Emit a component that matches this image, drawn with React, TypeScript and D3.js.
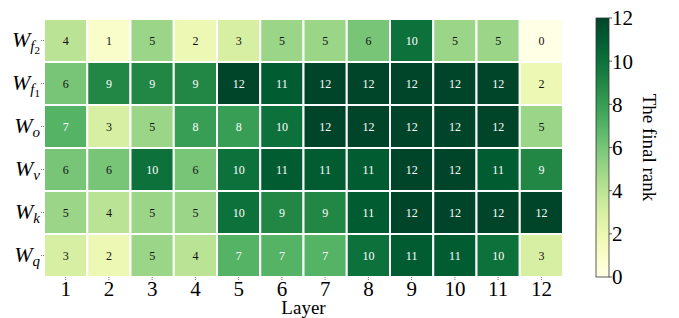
import * as d3 from "d3";

// matrix names (top row is W_f2, bottom row is W_q)
const rowNames = ["f2", "f1", "o", "v", "k", "q"];
const layers = ["1", "2", "3", "4", "5", "6", "7", "8", "9", "10", "11", "12"];

const rankWf2 = [4, 1, 5, 2, 3, 5, 5, 6, 10, 5, 5, 0];
const rankWf1 = [6, 9, 9, 9, 12, 11, 12, 12, 12, 12, 12, 2];
const rankWo = [7, 3, 5, 8, 8, 10, 12, 12, 12, 12, 12, 5];
const rankWv = [6, 6, 10, 6, 10, 11, 11, 11, 12, 12, 11, 9];
const rankWk = [5, 4, 5, 5, 10, 9, 9, 11, 12, 12, 12, 12];
const rankWq = [3, 2, 5, 4, 7, 7, 7, 10, 11, 11, 10, 3];

const cbTicks = [0, 2, 4, 6, 8, 10, 12];

const W = 679;
const H = 318;
const plot = { left: 44, top: 19, right: 563, bottom: 277 };
const cb = { left: 596, right: 609, top: 18, bottom: 277 };
const font = "Liberation Serif, Times New Roman, Times, serif";

export default function App() {
  const rows = [rankWf2, rankWf1, rankWo, rankWv, rankWk, rankWq];
  const x = d3.scaleBand().domain(layers).range([plot.left, plot.right]);
  const y = d3.scaleBand().domain(rowNames).range([plot.top, plot.bottom]);
  const color = d3.scaleSequential(d3.interpolateYlGn).domain([0, 12]);
  const cbScale = d3.scaleLinear().domain([0, 12]).range([cb.bottom, cb.top]);
  const stops = d3.range(0, 1.0001, 0.05);

  return (
    <svg width={W} height={H} style={{ position: "absolute", left: 0, top: 0, fontFamily: font }}>
      <defs>
        <linearGradient id="cbGrad" x1="0" y1="1" x2="0" y2="0">
          {stops.map((t) => (
            <stop key={t} offset={t} stopColor={d3.interpolateYlGn(t)} />
          ))}
        </linearGradient>
      </defs>
      <rect width={W} height={H} fill="white" />

      {/* cells */}
      {rows.map((vals, ri) =>
        vals.map((v, ci) => {
          const cx = x(layers[ci])!;
          const cy = y(rowNames[ri])!;
          return (
            <g key={`${ri}-${ci}`}>
              <rect
                x={cx}
                y={cy}
                width={x.bandwidth()}
                height={y.bandwidth()}
                fill={color(v)}
                stroke="white"
                strokeWidth={2}
              />
              <text
                x={cx + x.bandwidth() / 2}
                y={cy + y.bandwidth() / 2}
                dy="0.35em"
                textAnchor="middle"
                fontSize={12}
                fill={v >= 7 ? "white" : "#111"}
              >
                {v}
              </text>
            </g>
          );
        })
      )}

      {/* y labels */}
      {rowNames.map((n) => {
        const cy = y(n)! + y.bandwidth() / 2;
        const sub = n.length > 1;
        return (
          <g key={n}>
            <line x1={plot.left - 3} x2={plot.left} y1={cy} y2={cy} stroke="#555" strokeWidth={0.8} strokeDasharray="1,1" />
            <text x={plot.left - 4} y={cy} dy="0.3em" textAnchor="end" fontSize={22} fontStyle="italic">
              W
              <tspan fontSize={15} dy={4}>{n[0]}</tspan>
              {sub && (
                <tspan fontSize={11} fontStyle="normal" dy={3}>{n[1]}</tspan>
              )}
            </text>
          </g>
        );
      })}

      {/* x labels */}
      {layers.map((l) => {
        const cx = x(l)! + x.bandwidth() / 2;
        return (
          <g key={l}>
            <line x1={cx} x2={cx} y1={plot.bottom} y2={plot.bottom + 3} stroke="#555" strokeWidth={0.8} strokeDasharray="1,1" />
            <text x={cx} y={plot.bottom + 19} textAnchor="middle" fontSize={21}>
              {l}
            </text>
          </g>
        );
      })}
      <text x={(plot.left + plot.right) / 2} y={H - 4} textAnchor="middle" fontSize={19}>
        Layer
      </text>

      {/* colorbar */}
      <rect x={cb.left} y={cb.top} width={cb.right - cb.left} height={cb.bottom - cb.top} fill="url(#cbGrad)" stroke="#333" strokeWidth={0.8} />
      {cbTicks.map((t) => (
        <g key={t}>
          <line x1={cb.right} x2={cb.right + 3} y1={cbScale(t)} y2={cbScale(t)} stroke="#333" strokeWidth={0.8} />
          <text x={cb.right + 3} y={cbScale(t)} dy="0.35em" fontSize={21}>
            {t}
          </text>
        </g>
      ))}
      <text
        transform={`translate(${643},${(cb.top + cb.bottom) / 2}) rotate(90)`}
        textAnchor="middle"
        fontSize={19}
      >
        The final rank
      </text>
    </svg>
  );
}
